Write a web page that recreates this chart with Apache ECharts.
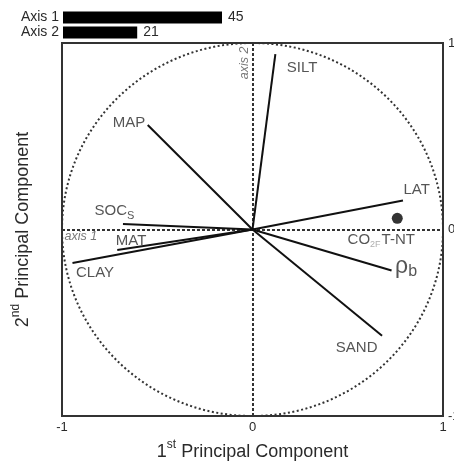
<!DOCTYPE html>
<html><head><meta charset="utf-8">
<script src="https://cdn.jsdelivr.net/npm/echarts@6/dist/echarts.min.js"></script>
<style>html,body{margin:0;padding:0;background:#fff}#c{width:454px;height:461px}</style>
</head><body><div id="c"></div>
<script>
// ---- data ----
const varNames = ['SILT', 'MAP', 'SOCs', 'MAT', 'CLAY', 'LAT', 'rho_b', 'SAND'];
const pc1 = [0.12, -0.55, -0.68, -0.71, -0.945, 0.79, 0.73, 0.68];
const pc2 = [0.94, 0.56, 0.03, -0.11, -0.18, 0.155, -0.22, -0.57];
const pointNames = ['CO2F T-NT'];
const pointPc1 = [0.76];
const pointPc2 = [0.06];
const circleRadius = [1];
const axisTicks = [-1, 0, 1];
const explainedAxes = ['Axis 1', 'Axis 2'];
const explainedValues = [45, 21];

// ---- styles ----
const FONT = "'Liberation Sans', Arial, Helvetica, sans-serif";
const TXT = '#2a2a2a';
const DOT = 11;
const labelStyle = {
  'SILT':  { pos: [12, 14],  align: 'left',  text: 'SILT' },
  'MAP':   { pos: [-2, -2],  align: 'right', text: 'MAP' },
  'SOCs':  { pos: [-28, -13], align: 'left', text: '{m|SOC}{s|S}' },
  'MAT':   { pos: [-1, -9],  align: 'left',  text: 'MAT' },
  'CLAY':  { pos: [4, 10],   align: 'left',  text: 'CLAY' },
  'LAT':   { pos: [1, -10],  align: 'left',  text: 'LAT' },
  'rho_b': { pos: [4, -3],   align: 'left',  text: '{r|ρ}{rb|b}' },
  'SAND':  { pos: [-4, 13],  align: 'right', text: 'SAND' },
  'CO2F T-NT': { pos: [-16 + DOT / 2, 22 + DOT / 2], align: 'center', text: '{m|CO}{t|2F}{m|T-NT}' }
};
const rich = {
  m: { fontSize: 15, color: TXT, fontFamily: FONT, lineHeight: 22, verticalAlign: 'middle' },
  s: { fontSize: 11, color: TXT, fontFamily: FONT, lineHeight: 22, verticalAlign: 'bottom' },
  t: { fontSize: 9, color: '#999', fontFamily: FONT, lineHeight: 22, verticalAlign: 'bottom', padding: [0, 1, 2, 0] },
  r: { fontSize: 23, color: TXT, fontFamily: FONT, lineHeight: 26, verticalAlign: 'middle' },
  rb: { fontSize: 16, color: TXT, fontFamily: FONT, lineHeight: 26, verticalAlign: 'bottom' }
};
function mkLabel(name) {
  const ls = labelStyle[name];
  return {
    show: true, position: ls.pos, align: ls.align, verticalAlign: 'middle',
    formatter: () => ls.text, fontSize: 15, color: TXT, fontFamily: FONT, rich: rich
  };
}

const vectorLines = varNames.map((n, i) => ({ coords: [[0, 0], [pc1[i], pc2[i]]] }));
const vectorLabels = varNames.map((n, i) => ({ value: [pc1[i], pc2[i]], name: n, label: mkLabel(n) }));
const pointData = pointNames.map((n, i) => ({ value: [pointPc1[i], pointPc2[i]], name: n, label: mkLabel(n) }));
const axMin = axisTicks[0], axMax = axisTicks[axisTicks.length - 1];

const chart = echarts.init(document.getElementById('c'), null, { renderer: 'canvas' });
chart.setOption({
  animation: false,
  textStyle: { fontFamily: FONT },
  grid: [
    { left: 62, right: 11, top: 43, height: 373, show: true, borderColor: '#333', borderWidth: 2,
      backgroundColor: 'transparent', containLabel: false, outerBoundsMode: 'none' },
    { left: 63, top: 10, height: 30, width: 212, containLabel: false, outerBoundsMode: 'none' }
  ],
  xAxis: [
    { type: 'value', gridIndex: 0, min: axMin, max: axMax, interval: 1,
      axisLine: { show: false }, axisTick: { show: false }, splitLine: { show: false },
      axisLabel: { fontSize: 13, color: TXT, margin: 5, fontFamily: FONT },
      name: '{n|1}{sp|st}{n| Principal Component}', nameLocation: 'middle', nameGap: 21,
      nameTextStyle: { rich: {
        n: { fontSize: 18, color: TXT, fontFamily: FONT, lineHeight: 22, verticalAlign: 'bottom' },
        sp: { fontSize: 12, color: TXT, fontFamily: FONT, lineHeight: 22, verticalAlign: 'top' } } } },
    { type: 'value', gridIndex: 1, min: 0, max: 60, show: false }
  ],
  yAxis: [
    { type: 'value', gridIndex: 0, position: 'right', min: axMin, max: axMax, interval: 1,
      axisLine: { show: false }, axisTick: { show: false }, splitLine: { show: false },
      axisLabel: { fontSize: 13, color: TXT, margin: 5, fontFamily: FONT } },
    { type: 'value', gridIndex: 0, position: 'left', min: axMin, max: axMax, interval: 1,
      axisLine: { show: false }, axisTick: { show: false }, splitLine: { show: false }, axisLabel: { show: false },
      name: '{n|2}{sp|nd}{n| Principal Component}', nameLocation: 'middle', nameGap: 30, nameRotate: 90,
      nameTextStyle: { rich: {
        n: { fontSize: 18, color: TXT, fontFamily: FONT, lineHeight: 22, verticalAlign: 'bottom' },
        sp: { fontSize: 12, color: TXT, fontFamily: FONT, lineHeight: 22, verticalAlign: 'top' } } } },
    { type: 'category', gridIndex: 1, data: explainedAxes, inverse: true,
      axisLine: { show: false }, axisTick: { show: false },
      axisLabel: { fontSize: 14, color: TXT, margin: 4, fontFamily: FONT, interval: 0 } }
  ],
  series: [
    { type: 'custom', xAxisIndex: 0, yAxisIndex: 0, silent: true, z: 1,
      data: [[0, 0, circleRadius[0]]],
      renderItem: (params, api) => {
        const c = api.coord([api.value(0), api.value(1)]);
        const s = api.size([api.value(2), api.value(2)]);
        return { type: 'ellipse', shape: { cx: c[0], cy: c[1], rx: s[0], ry: s[1] },
          style: { fill: 'none', stroke: '#333', lineWidth: 2, lineDash: [2, 2.5] } };
      } },
    { type: 'lines', coordinateSystem: 'cartesian2d', xAxisIndex: 0, yAxisIndex: 0, silent: true, z: 2,
      lineStyle: { color: '#333', width: 2, type: [3, 2], opacity: 1 },
      data: [{ coords: [[axMin, 0], [axMax, 0]] }, { coords: [[0, axMin], [0, axMax]] }] },
    { type: 'lines', coordinateSystem: 'cartesian2d', xAxisIndex: 0, yAxisIndex: 0, silent: true, z: 3,
      lineStyle: { color: '#111', width: 2, opacity: 1 }, data: vectorLines },
    { type: 'scatter', xAxisIndex: 0, yAxisIndex: 0, z: 4, symbolSize: 1,
      itemStyle: { color: 'rgba(0,0,0,0)' }, data: vectorLabels },
    { type: 'scatter', xAxisIndex: 0, yAxisIndex: 0, z: 5, symbolSize: DOT,
      itemStyle: { color: '#000' }, data: pointData },
    { type: 'scatter', xAxisIndex: 0, yAxisIndex: 0, z: 5, symbolSize: 1,
      itemStyle: { color: 'rgba(0,0,0,0)' },
      data: [
        { value: [axMin, 0], label: { show: true, formatter: 'axis 1', position: [3, 8], align: 'left', verticalAlign: 'middle', fontSize: 12.5, fontStyle: 'italic', color: '#555', fontFamily: FONT } },
        { value: [0, axMax], label: { show: true, formatter: 'axis 2', position: [-7, 4], align: 'right', verticalAlign: 'middle', rotate: 90, fontSize: 12.5, fontStyle: 'italic', color: '#555', fontFamily: FONT } }
      ] },
    { type: 'bar', xAxisIndex: 1, yAxisIndex: 2, data: explainedValues, barWidth: 12,
      itemStyle: { color: '#000' },
      label: { show: true, position: 'right', distance: 6, fontSize: 14, color: TXT, fontFamily: FONT } }
  ]
});
</script></body></html>
